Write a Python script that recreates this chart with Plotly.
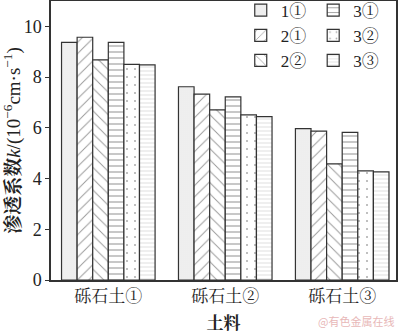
import plotly.graph_objects as go

categories = ["砾石土①", "砾石土②", "砾石土③"]
series_names = ["1①", "2①", "2②", "3①", "3②", "3③"]
values = {
    "1①": [9.37, 7.62, 5.97],
    "2①": [9.57, 7.33, 5.87],
    "2②": [8.68, 6.71, 4.58],
    "3①": [9.37, 7.22, 5.82],
    "3②": [8.50, 6.51, 4.30],
    "3③": [8.48, 6.44, 4.26],
}
y_ticks = [0, 2, 4, 6, 8, 10]

patterns = {
    "1①": dict(shape=".", size=2, solidity=0.35, fgcolor="#a0a0a0"),
    "2①": dict(shape="/", size=8, solidity=0.12, fgcolor="#333333"),
    "2②": dict(shape="\\", size=8, solidity=0.12, fgcolor="#333333"),
    "3①": dict(shape="-", size=6, solidity=0.18, fgcolor="#333333"),
    "3②": dict(shape=".", size=8, solidity=0.05, fgcolor="#555555"),
    "3③": dict(shape="-", size=4, solidity=0.2, fgcolor="#b0b0b0"),
}
legend_of = {"1①": "legend", "2①": "legend", "2②": "legend",
             "3①": "legend2", "3②": "legend2", "3③": "legend2"}

FONT = "Liberation Serif, Noto Serif CJK SC, Noto Sans CJK SC, serif"

fig = go.Figure()
for name in series_names:
    fig.add_trace(go.Bar(
        x=categories, y=values[name], name=name,
        legend=legend_of[name],
        marker=dict(color="white", line=dict(color="#333333", width=1.2),
                    pattern=dict(bgcolor="white", fillmode="overlay", **patterns[name])),
    ))

fig.update_layout(
    width=400, height=333,
    margin=dict(l=51, r=4, t=1, b=53, autoexpand=False),
    paper_bgcolor="white", plot_bgcolor="white",
    barmode="group", bargap=0.2, bargroupgap=0,
    font=dict(family=FONT, size=16, color="#222222"),
    showlegend=True,
    legend=dict(x=0.55, y=1.03, xanchor="left", yanchor="top", bgcolor="rgba(0,0,0,0)",
                font=dict(size=17), tracegroupgap=0),
    legend2=dict(x=0.76, y=1.03, xanchor="left", yanchor="top", bgcolor="rgba(0,0,0,0)",
                 font=dict(size=17), tracegroupgap=0),
    xaxis=dict(range=[-0.49, 2.46], showline=True, linecolor="#333333", linewidth=1.5,
               mirror=True, ticks="", tickfont=dict(size=17),
               title=dict(text="<b>土料</b>", font=dict(size=17), standoff=14)),
    yaxis=dict(range=[0, 11], tickvals=y_ticks, showline=True, linecolor="#333333",
               linewidth=1.5, mirror=True, ticks="outside", ticklen=4, tickwidth=1,
               tickcolor="#333333", showgrid=False, zeroline=False,
               tickfont=dict(size=18),
               title=dict(text="<b>渗透系数</b><i>k</i>/(10<sup>−6</sup>cm·s<sup>−1</sup>)",
                          font=dict(size=19), standoff=2)),
    annotations=[dict(text="@有色金属在线", xref="paper", yref="paper", x=1.0, y=-0.182,
                      xanchor="right", yanchor="bottom", showarrow=False,
                      font=dict(size=11, color="#e8b8b8", family="Noto Sans CJK SC"))],
)

fig.write_html("out.html")
